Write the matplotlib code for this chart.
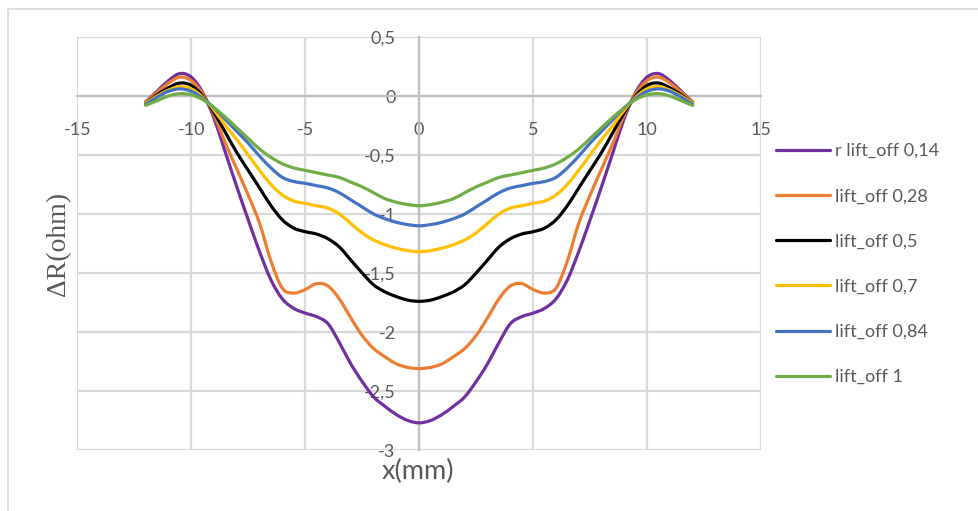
import numpy as np
import matplotlib
matplotlib.use("Agg")
import matplotlib.pyplot as plt
from matplotlib.path import Path
from matplotlib.patches import PathPatch
from matplotlib.lines import Line2D
from matplotlib.ticker import FuncFormatter

# Position along the scan (mm)
x_mm = np.arange(-12.0, 12.01, 0.5)

# Resistance change (ohm) for each lift-off
dr_014 = [-0.05, 0.04, 0.13, 0.19, 0.16, 0.03, -0.19, -0.48, -0.77, -1.05, -1.32, -1.56,
          -1.72, -1.80, -1.84, -1.87, -1.93, -2.09, -2.27, -2.42, -2.55, -2.63, -2.70, -2.75,
          -2.77,
          -2.75, -2.70, -2.63, -2.55, -2.42, -2.27, -2.09, -1.93, -1.87, -1.84, -1.80, -1.72,
          -1.56, -1.32, -1.05, -0.77, -0.48, -0.19, 0.03, 0.16, 0.19, 0.13, 0.04, -0.05]
dr_028 = [-0.05, 0.03, 0.11, 0.16, 0.13, 0.02, -0.16, -0.40, -0.62, -0.84, -1.08, -1.40,
          -1.63, -1.67, -1.64, -1.59, -1.61, -1.72, -1.88, -2.03, -2.14, -2.21, -2.27, -2.30,
          -2.31,
          -2.30, -2.27, -2.21, -2.14, -2.03, -1.88, -1.72, -1.61, -1.59, -1.64, -1.67, -1.63,
          -1.40, -1.08, -0.84, -0.62, -0.40, -0.16, 0.02, 0.13, 0.16, 0.11, 0.03, -0.05]
dr_05 = [-0.06, 0.01, 0.07, 0.11, 0.09, 0.00, -0.14, -0.31, -0.48, -0.63, -0.78, -0.93,
         -1.05, -1.12, -1.15, -1.17, -1.21, -1.28, -1.39, -1.50, -1.60, -1.66, -1.70, -1.73,
         -1.74,
         -1.73, -1.70, -1.66, -1.60, -1.50, -1.39, -1.28, -1.21, -1.17, -1.15, -1.12, -1.05,
         -0.93, -0.78, -0.63, -0.48, -0.31, -0.14, 0.00, 0.09, 0.11, 0.07, 0.01, -0.06]
dr_07 = [-0.06, 0.00, 0.05, 0.08, 0.06, -0.01, -0.12, -0.25, -0.37, -0.50, -0.63, -0.75,
         -0.84, -0.89, -0.91, -0.93, -0.95, -1.00, -1.08, -1.16, -1.22, -1.26, -1.29, -1.31,
         -1.32,
         -1.31, -1.29, -1.26, -1.22, -1.16, -1.08, -1.00, -0.95, -0.93, -0.91, -0.89, -0.84,
         -0.75, -0.63, -0.50, -0.37, -0.25, -0.12, -0.01, 0.06, 0.08, 0.05, 0.00, -0.06]
dr_084 = [-0.07, -0.01, 0.04, 0.06, 0.04, -0.02, -0.10, -0.20, -0.30, -0.40, -0.51, -0.61,
          -0.69, -0.725, -0.74, -0.76, -0.78, -0.82, -0.88, -0.94, -1.00, -1.04, -1.07, -1.09,
          -1.10,
          -1.09, -1.07, -1.04, -1.00, -0.94, -0.88, -0.82, -0.78, -0.76, -0.74, -0.725, -0.69,
          -0.61, -0.51, -0.40, -0.30, -0.20, -0.10, -0.02, 0.04, 0.06, 0.04, -0.01, -0.07]
dr_1 = [-0.08, -0.04, 0.00, 0.02, 0.01, -0.03, -0.10, -0.18, -0.27, -0.36, -0.45, -0.52,
        -0.575, -0.61, -0.63, -0.65, -0.67, -0.69, -0.73, -0.77, -0.82, -0.87, -0.90, -0.92,
        -0.93,
        -0.92, -0.90, -0.87, -0.82, -0.77, -0.73, -0.69, -0.67, -0.65, -0.63, -0.61, -0.575,
        -0.52, -0.45, -0.36, -0.27, -0.18, -0.10, -0.03, 0.01, 0.02, 0.00, -0.04, -0.08]

series_labels = ["r lift_off 0,14", "lift_off 0,28", "lift_off 0,5",
                 "lift_off 0,7", "lift_off 0,84", "lift_off 1"]
series_values = [dr_014, dr_028, dr_05, dr_07, dr_084, dr_1]
series_colors = ["#7030A0", "#ED7D31", "#000000", "#FFC000", "#4472C4", "#70AD47"]

x_ticks = [-15, -10, -5, 0, 5, 10, 15]
y_ticks = [0.5, 0, -0.5, -1, -1.5, -2, -2.5, -3]

TXT = "#595959"
GRID = "#D9D9D9"
AXIS = "#BFBFBF"
FONT = ["Lato", "DejaVu Sans"]
LW = 2.3


def smooth_path(xs, ys):
    """Cubic Bezier path through the points (spreadsheet-style smoothed line)."""
    p = np.column_stack([xs, ys]).astype(float)
    n = len(p)
    verts = [p[0]]
    codes = [Path.MOVETO]
    for i in range(n - 1):
        p0 = p[i - 1] if i > 0 else p[i]
        p3 = p[i + 2] if i + 2 < n else p[i + 1]
        c1 = p[i] + (p[i + 1] - p0) / 6.0
        c2 = p[i + 1] - (p3 - p[i]) / 6.0
        verts += [c1, c2, p[i + 1]]
        codes += [Path.CURVE4] * 3
    return Path(verts, codes)


fig = plt.figure(figsize=(9.79, 5.11), dpi=100)
fig.patch.set_facecolor("white")

# outer chart frame
fig.add_artist(plt.Rectangle((8 / 979, -0.05), 1.2, 1.05 - 9 / 511,
                             transform=fig.transFigure, fill=False,
                             edgecolor=GRID, linewidth=1.2))

ax = fig.add_axes([77.3 / 979, 1 - 450 / 511, (761 - 77.3) / 979, (450 - 37) / 511])
ax.set_xlim(-15, 15)
ax.set_ylim(-3, 0.5)

ax.set_xticks(x_ticks)
ax.set_yticks(y_ticks)
ax.grid(True, color=GRID, linewidth=1.6)
ax.set_axisbelow(True)

# axes cross at the origin
ax.spines["left"].set_position(("data", 0))
ax.spines["bottom"].set_position(("data", 0))
for s in ["left", "bottom"]:
    ax.spines[s].set_color(AXIS)
    ax.spines[s].set_linewidth(1.6)
for s in ["right", "top"]:
    ax.spines[s].set_visible(False)

fmt = FuncFormatter(lambda v, p: ("%g" % v).replace(".", ","))
ax.xaxis.set_major_formatter(fmt)
ax.yaxis.set_major_formatter(fmt)
ax.tick_params(axis="both", length=0, colors=TXT, labelsize=13)
ax.tick_params(axis="x", pad=19)
ax.tick_params(axis="y", pad=17)
for lab in ax.get_xticklabels() + ax.get_yticklabels():
    lab.set_family(FONT)

handles = []
for vals, lab, col in zip(series_values, series_labels, series_colors):
    patch = PathPatch(smooth_path(x_mm, vals), fill=False, edgecolor=col,
                      linewidth=LW, joinstyle="round", capstyle="round", zorder=3)
    ax.add_patch(patch)
    handles.append(Line2D([], [], color=col, linewidth=LW, solid_capstyle="round",
                          label=lab))

fig.text(418 / 979, 1 - 471 / 511, "x(mm)", ha="center", va="center",
         color=TXT, fontsize=19.5, family=FONT)
fig.text(59 / 979, 1 - 244 / 511, "ΔR(ohm)", ha="center", va="center",
         rotation=90, color=TXT, fontsize=20, family=["Liberation Serif", "DejaVu Serif"])

leg = fig.legend(handles=handles, loc="upper left",
                 bbox_to_anchor=(776 / 979, 1 - 143 / 511),
                 frameon=False, handlelength=3.0, handletextpad=0.25,
                 labelspacing=1.62, borderpad=0, borderaxespad=0,
                 prop={"family": FONT, "size": 13})
for t in leg.get_texts():
    t.set_color(TXT)

fig.savefig("out.png", dpi=100, facecolor="white")
